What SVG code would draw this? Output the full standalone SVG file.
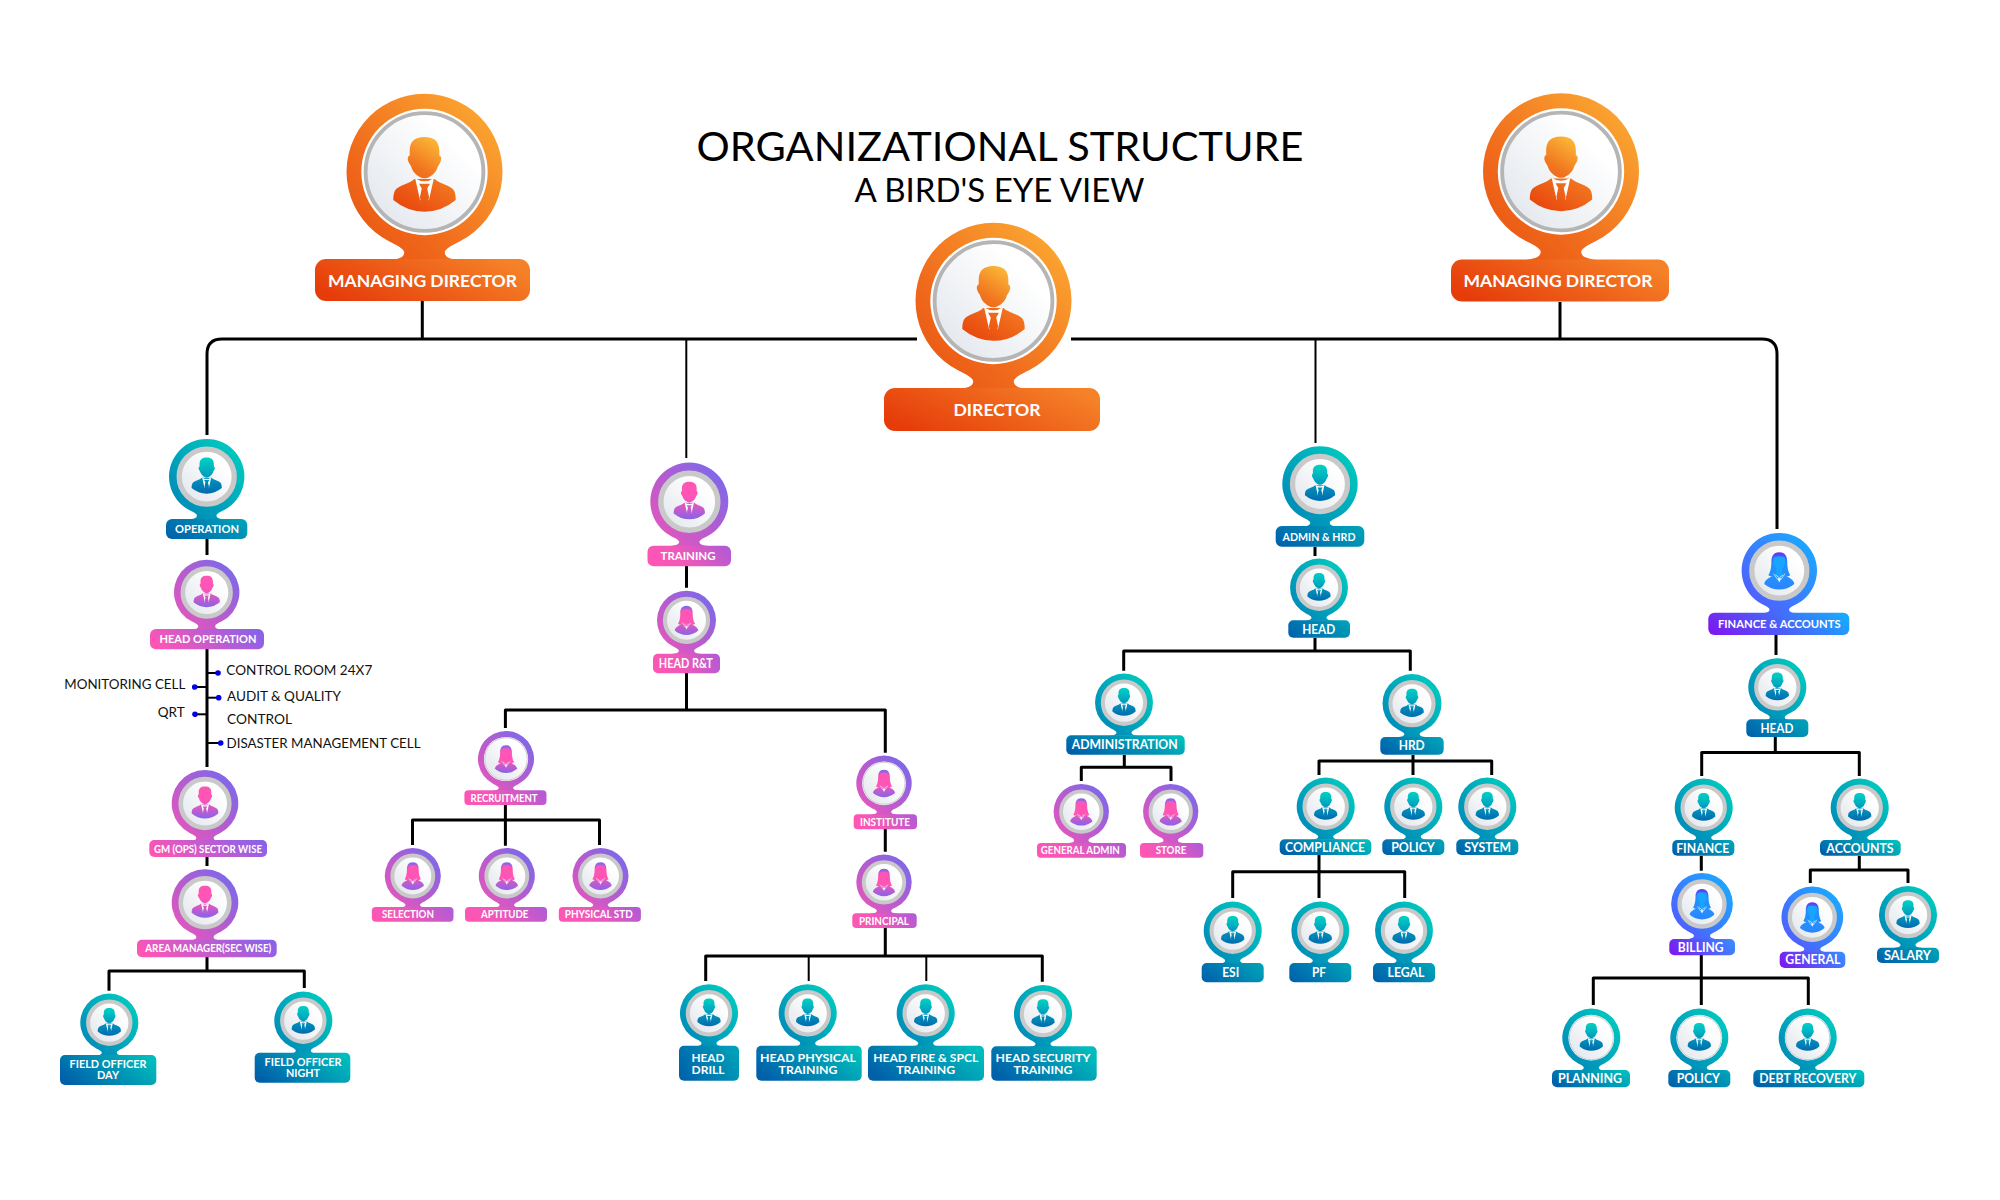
<svg xmlns="http://www.w3.org/2000/svg" width="2000" height="1200" viewBox="0 0 2000 1200">
<style>
text{font-family:"Lato","Liberation Sans",sans-serif;text-anchor:middle}
.w{fill:#fff;font-weight:700}
.f11{font-size:10.8px}.f12{font-size:11.8px}.f13{font-size:12.8px}.f18{font-size:17.5px}
.k{fill:#111;font-size:13.2px;text-anchor:start}
.t{fill:#000;font-size:40px}.st{fill:#000;font-size:32px}
.lo{fill:url(#lo)}.lt{fill:url(#lt)}.lt2{fill:url(#lt2)}.lp{fill:url(#lp)}.lp2{fill:url(#lp2)}.lb{fill:url(#lb)}.lb2{fill:url(#lb2)}
.c3,.c2,.tk{fill:none;stroke:#000;stroke-linejoin:round}
.c3{stroke-width:3}.c2{stroke-width:2}.tk{stroke-width:2;marker-end:url(#dot)}
</style>
<defs>
<linearGradient id="ho" x1="0" y1="1" x2="1" y2="0"><stop offset="0" stop-color="#e8500f"/><stop offset=".35" stop-color="#f06a1c"/><stop offset="1" stop-color="#fdb235"/></linearGradient>
<linearGradient id="ht" x1="0" y1="1" x2="1" y2="0"><stop offset="0" stop-color="#0083b6"/><stop offset=".3" stop-color="#0098ba"/><stop offset="1" stop-color="#00d3c0"/></linearGradient>
<linearGradient id="hp" x1="0" y1="1" x2="1" y2="0"><stop offset="0" stop-color="#f055b8"/><stop offset=".5" stop-color="#b45cd0"/><stop offset="1" stop-color="#6c6cf2"/></linearGradient>
<linearGradient id="hb" x1="0" y1="1" x2="1" y2="0"><stop offset="0" stop-color="#5a50ff"/><stop offset="1" stop-color="#12b4ff"/></linearGradient>
<linearGradient id="lo" x1="0" y1=".7" x2="1" y2=".3"><stop offset="0" stop-color="#e63c0a"/><stop offset="1" stop-color="#f58228"/></linearGradient>
<linearGradient id="lt" x1="0" y1=".7" x2="1" y2=".3"><stop offset="0" stop-color="#0060aa"/><stop offset="1" stop-color="#00bcbc"/></linearGradient>
<linearGradient id="lt2" x1="0" y1=".7" x2="1" y2=".3"><stop offset="0" stop-color="#0064ac"/><stop offset="1" stop-color="#00a0b8"/></linearGradient>
<linearGradient id="lp" x1="0" y1=".6" x2="1" y2=".4"><stop offset="0" stop-color="#ff55b4"/><stop offset="1" stop-color="#8a62e8"/></linearGradient>
<linearGradient id="lp2" x1="0" y1=".6" x2="1" y2=".4"><stop offset="0" stop-color="#ff55b4"/><stop offset=".4" stop-color="#f058b8"/><stop offset="1" stop-color="#b45ad4"/></linearGradient>
<linearGradient id="lb" x1="0" y1=".6" x2="1" y2=".4"><stop offset="0" stop-color="#7a1cf0"/><stop offset="1" stop-color="#18a8ff"/></linearGradient>
<linearGradient id="lb2" x1="0" y1=".6" x2="1" y2=".4"><stop offset="0" stop-color="#7a1cf0"/><stop offset="1" stop-color="#3a88ff"/></linearGradient>
<linearGradient id="fo" gradientUnits="userSpaceOnUse" x1="-35" y1="50" x2="25" y2="-45"><stop offset="0" stop-color="#e8410c"/><stop offset=".55" stop-color="#f1751f"/><stop offset="1" stop-color="#fdc53c"/></linearGradient>
<linearGradient id="ft" gradientUnits="userSpaceOnUse" x1="0" y1="50" x2="0" y2="-45"><stop offset="0" stop-color="#006cae"/><stop offset=".4" stop-color="#0092bc"/><stop offset=".65" stop-color="#00b0c0"/><stop offset="1" stop-color="#00d2c4"/></linearGradient>
<linearGradient id="fp" gradientUnits="userSpaceOnUse" x1="0" y1="50" x2="0" y2="-45"><stop offset="0" stop-color="#8a62e8"/><stop offset=".35" stop-color="#d858c4"/><stop offset=".6" stop-color="#ff55b4"/><stop offset="1" stop-color="#ff55b4"/></linearGradient>
<linearGradient id="fb" gradientUnits="userSpaceOnUse" x1="0" y1="50" x2="0" y2="-45"><stop offset="0" stop-color="#2c84ff"/><stop offset="1" stop-color="#16a8ff"/></linearGradient>
<linearGradient id="hrp" gradientUnits="userSpaceOnUse" x1="0" y1="-49" x2="0" y2="-20"><stop offset="0" stop-color="#7868f0"/><stop offset="1" stop-color="#ff55b4"/></linearGradient>
<linearGradient id="hrb" gradientUnits="userSpaceOnUse" x1="0" y1="-49" x2="0" y2="-20"><stop offset="0" stop-color="#6a30f0"/><stop offset="1" stop-color="#2090ff"/></linearGradient>
<linearGradient id="disc" x1="1" y1="0" x2="0" y2="1"><stop offset=".25" stop-color="#fff"/><stop offset="1" stop-color="#dfe4ea"/></linearGradient>
<marker id="dot" markerUnits="userSpaceOnUse" markerWidth="6" markerHeight="6" refX="3" refY="3"><circle cx="3" cy="3" r="2.800" fill="#0000e6"/></marker>
<path id="hd" d="M-45 89A100 100 0 1 1 45 89C30 96 26 100 26 103C26 110 34 112 50 114L-50 114C-34 112-26 110-26 103C-26 100-30 96-45 89Z"/>
<g id="man">
<path d="M0-45C-13-45-19-39-19-27C-19-24-19-22-19-21C-22-20-22-15-20-12C-18-9-17-7-16-4C-13 3-5 8 0 8C5 8 13 3 16-4C17-7 18-9 20-12C22-15 22-20 19-21C19-22 19-24 19-27C19-39 13-45 0-45Z"/>
<path d="M-13 9C-18 15-34 17-38 24C-40 28-40 33-40 36Q-22 51 0 51Q22 51 40 36C40 33 40 28 38 24C34 17 18 15 13 9Z"/>
<path fill="#fff" d="M-12 8L-5.500 37L-3 25L3 25L5.500 37L12 8Q0 16-12 8Z"/>
<path d="M-7 15L7 15L3.500 21L6 33L0 42L-6 33L-3.500 21Z"/>
</g>
<g id="fem-p">
<path fill="url(#hrp)" d="M0-49C-17-49-21-36-21-24C-21-8-24 4-29 12C-22 17-12 16 0 16C12 16 22 17 29 12C24 4 21-8 21-24C21-36 17-49 0-49Z"/>
<path fill="url(#fp)" d="M-12 10C-16 15-38 20-40 35Q-22 50 0 50Q22 50 40 35C38 20 16 15 12 10Z"/>
<path fill="#ff55b4" d="M-16-28C-16-36-10-38 0-38C10-38 16-36 16-28C16-14 8-2 0-2C-8-2-16-14-16-28ZM-7-6L7-6L9 12L0 20L-9 12Z"/>
<path fill="#fff" d="M-5 20L5 20L0 31Z"/>
<path fill="none" stroke="#fff" stroke-width="1.800" d="M-15 8L-4 24M15 8L4 24M-10 11L0 19L10 11"/>
</g>
<g id="fem-b">
<path fill="url(#hrb)" d="M0-49C-17-49-21-36-21-24C-21-8-24 4-29 12C-22 17-12 16 0 16C12 16 22 17 29 12C24 4 21-8 21-24C21-36 17-49 0-49Z"/>
<path fill="url(#fb)" d="M-12 10C-16 15-38 20-40 35Q-22 50 0 50Q22 50 40 35C38 20 16 15 12 10Z"/>
<path fill="#18a4ff" d="M-16-28C-16-36-10-38 0-38C10-38 16-36 16-28C16-14 8-2 0-2C-8-2-16-14-16-28ZM-7-6L7-6L9 12L0 20L-9 12Z"/>
<path fill="#fff" d="M-5 20L5 20L0 31Z"/>
<path fill="none" stroke="#fff" stroke-width="1.800" d="M-15 8L-4 24M15 8L4 24M-10 11L0 19L10 11"/>
</g>
<g id="ring"><circle r="73" fill="url(#disc)" stroke="#c9c9c9" stroke-width="14"/></g>
<g id="ringf"><circle r="79" fill="#fff"/><circle r="76" fill="url(#disc)" stroke="#b8b8b8" stroke-width="2.500"/></g>
<g id="pin-o"><use href="#hd" fill="url(#ho)"/><circle r="81" fill="#fff"/><circle r="75.500" fill="url(#disc)" stroke="#b5b5b5" stroke-width="5"/><use href="#man" fill="url(#fo)"/></g>
<g id="pin-t"><use href="#hd" fill="url(#ht)"/><use href="#ring"/><use href="#man" fill="url(#ft)" y="-6"/></g>
<g id="pin-tf"><use href="#hd" fill="url(#ht)"/><use href="#ringf"/><use href="#man" fill="url(#ft)" y="-6"/></g>
<g id="pin-p"><use href="#hd" fill="url(#hp)"/><use href="#ring"/><use href="#man" fill="url(#fp)" y="-6"/></g>
<g id="pin-w"><use href="#hd" fill="url(#hp)"/><use href="#ring"/><use href="#fem-p"/></g>
<g id="pin-wf"><use href="#hd" fill="url(#hp)"/><use href="#ringf"/><use href="#fem-p"/></g>
<g id="pin-b"><use href="#hd" fill="url(#hb)"/><use href="#ring"/><use href="#fem-b"/></g>
</defs>
<g id="title">
<text class="t" x="1000" y="160.700" textLength="607" lengthAdjust="spacingAndGlyphs">ORGANIZATIONAL STRUCTURE</text>
<text class="st" x="999.500" y="202" textLength="290" lengthAdjust="spacingAndGlyphs">A BIRD'S EYE VIEW</text>
</g>
<g id="connectors">
<path class="c3" d="M207 435V354Q207 339 222 339H917M1071 339H1762Q1777 339 1777 354V529M422.300 301V339M1560 302V339"/>
<path class="c2" d="M686.300 339V458M1315.500 339V443M808.700 956V981M926.300 956V981"/>
<path class="c3" d="M207 539V555M207 649V767M207 857V866M207 957V971M109 990.700V971H304.300V988"/>
<path class="c3" d="M686.500 566V587.700M686.500 673V710M505.400 728V710H885.300V752.700M505.400 805V845.700M412.500 845V820H599.500V845M885.300 829V851.700M885.300 928V956M705.700 981V956H1042.300V981.700"/>
<path class="c3" d="M1315 547V556M1315 638V651M1123.700 670.700V651H1410.300V670.700M1124.300 755V767.300M1081.300 781V767.300H1171V781M1413 755V775M1319 775V761H1491.700V775M1319 855V898M1232.700 898V871.700H1404.700V898"/>
<path class="c3" d="M1776 635V655M1775.300 737V752.500M1701.700 776V752.500H1859.300V776M1701.300 856V870.700M1701.300 955V1005M1593.300 1005V978H1808.300V1005M1859.300 856V870M1810.300 883V870H1908V883"/>
<path class="tk" d="M207 673H218"/><path class="tk" d="M207 697.700H218.700"/><path class="tk" d="M207 743H220.700"/><path class="tk" d="M207 687H194.700"/><path class="tk" d="M207 714.300H195"/>
</g>
<g id="notes">
<text class="k" x="226.300" y="675" textLength="146" lengthAdjust="spacingAndGlyphs">CONTROL ROOM 24X7</text>
<text class="k" x="227" y="701" textLength="114" lengthAdjust="spacingAndGlyphs">AUDIT &amp; QUALITY</text>
<text class="k" x="227" y="724" textLength="65" lengthAdjust="spacingAndGlyphs">CONTROL</text>
<text class="k" x="226.500" y="748" textLength="194" lengthAdjust="spacingAndGlyphs">DISASTER MANAGEMENT CELL</text>
<text class="k" x="64.300" y="689" textLength="121" lengthAdjust="spacingAndGlyphs">MONITORING CELL</text>
<text class="k" x="157.700" y="716.700" textLength="27" lengthAdjust="spacingAndGlyphs">QRT</text>
</g>
<g id="n-md-left"><use href="#pin-o" transform="translate(424.500 172) scale(.78)"/><rect class="lo" x="315" y="259" width="215" height="42" rx="11"/><text class="w f18" x="422.500" y="286.500" textLength="189" lengthAdjust="spacingAndGlyphs">MANAGING DIRECTOR</text></g>
<g id="n-md-right"><use href="#pin-o" transform="translate(1561 171.500) scale(.78)"/><rect class="lo" x="1451" y="259.500" width="218" height="42" rx="11"/><text class="w f18" x="1558" y="286.500" textLength="189" lengthAdjust="spacingAndGlyphs">MANAGING DIRECTOR</text></g>
<g id="n-director"><use href="#pin-o" transform="translate(993.500 301) scale(.78)"/><rect class="lo" x="884" y="388" width="216" height="43" rx="11"/><text class="w f18" x="997" y="415.500" textLength="87" lengthAdjust="spacingAndGlyphs">DIRECTOR</text></g>

<g id="n-operation"><use href="#pin-t" transform="translate(206.700 476.700) scale(.377)"/><rect class="lt2" x="166" y="519" width="81.300" height="20" rx="6"/><text class="w f11" x="207" y="532.800" textLength="64" lengthAdjust="spacingAndGlyphs">OPERATION</text></g>
<g id="n-head-operation"><use href="#pin-p" transform="translate(206.700 592.500) scale(.327)"/><rect class="lp" x="150" y="629" width="114" height="20.300" rx="6"/><text class="w f12" x="208" y="643" textLength="97" lengthAdjust="spacingAndGlyphs">HEAD OPERATION</text></g>
<g id="n-gm"><use href="#pin-p" transform="translate(205 803.500) scale(.333)"/><rect class="lp" x="149.300" y="840" width="117.700" height="17" rx="5"/><text class="w f11" x="208" y="852.500" textLength="108" lengthAdjust="spacingAndGlyphs">GM (OPS) SECTOR WISE</text></g>
<g id="n-area"><use href="#pin-p" transform="translate(205 902.700) scale(.333)"/><rect class="lp" x="137" y="939.700" width="139.700" height="17.600" rx="5"/><text class="w f11" x="208.300" y="952.300" textLength="126" lengthAdjust="spacingAndGlyphs">AREA MANAGER(SEC WISE)</text></g>
<g id="n-fo-day"><use href="#pin-t" transform="translate(109.300 1022.700) scale(.29)"/><rect class="lt" x="60" y="1055" width="96.300" height="30" rx="5"/><text class="w f12"><tspan x="108" y="1068" textLength="77" lengthAdjust="spacingAndGlyphs">FIELD OFFICER</tspan><tspan x="108" y="1079.300" textLength="22" lengthAdjust="spacingAndGlyphs">DAY</tspan></text></g>
<g id="n-fo-night"><use href="#pin-t" transform="translate(303.300 1020.700) scale(.29)"/><rect class="lt" x="254.700" y="1052.700" width="95.600" height="30" rx="5"/><text class="w f12"><tspan x="303" y="1066" textLength="77" lengthAdjust="spacingAndGlyphs">FIELD OFFICER</tspan><tspan x="303" y="1077" textLength="34" lengthAdjust="spacingAndGlyphs">NIGHT</tspan></text></g>

<g id="n-training"><use href="#pin-p" transform="translate(689.300 501.700) scale(.39)"/><rect class="lp2" x="647.500" y="545.700" width="83.500" height="20.600" rx="6"/><text class="w f12" x="688" y="560.400" textLength="55" lengthAdjust="spacingAndGlyphs">TRAINING</text></g>
<g id="n-head-rt"><use href="#pin-w" transform="translate(686.500 620.300) scale(.295)"/><rect class="lp2" x="653" y="653.700" width="67" height="19.600" rx="5"/><text class="w f13" x="685.800" y="668" textLength="54" lengthAdjust="spacingAndGlyphs">HEAD R&amp;T</text></g>
<g id="n-recruitment"><use href="#pin-wf" transform="translate(506 759) scale(.28)"/><rect class="lp2" x="464.400" y="790.300" width="82.100" height="14.700" rx="4"/><text class="w f11" x="504" y="801.500" textLength="67" lengthAdjust="spacingAndGlyphs">RECRUITMENT</text></g>
<g id="n-selection"><use href="#pin-w" transform="translate(412.800 876) scale(.28)"/><rect class="lp2" x="371.800" y="907" width="81.700" height="14.700" rx="4"/><text class="w f11" x="408" y="918.200" textLength="52" lengthAdjust="spacingAndGlyphs">SELECTION</text></g>
<g id="n-aptitude"><use href="#pin-w" transform="translate(506.800 876) scale(.28)"/><rect class="lp2" x="465" y="907" width="82" height="14.700" rx="4"/><text class="w f11" x="504.700" y="918.200" textLength="47.400" lengthAdjust="spacingAndGlyphs">APTITUDE</text></g>
<g id="n-physical"><use href="#pin-w" transform="translate(600.500 876) scale(.28)"/><rect class="lp2" x="558.800" y="907" width="82.100" height="14.700" rx="4"/><text class="w f11" x="598.800" y="918.200" textLength="68" lengthAdjust="spacingAndGlyphs">PHYSICAL STD</text></g>
<g id="n-institute"><use href="#pin-wf" transform="translate(884 783.300) scale(.277)"/><rect class="lp2" x="853.700" y="814.300" width="63.300" height="15" rx="4"/><text class="w f11" x="885" y="825.700" textLength="50" lengthAdjust="spacingAndGlyphs">INSTITUTE</text></g>
<g id="n-principal"><use href="#pin-w" transform="translate(884 882.300) scale(.277)"/><rect class="lp2" x="852.300" y="913.300" width="64.400" height="14.700" rx="4"/><text class="w f11" x="884" y="924.600" textLength="50" lengthAdjust="spacingAndGlyphs">PRINCIPAL</text></g>
<g id="n-head-drill"><use href="#pin-t" transform="translate(709 1013.300) scale(.29)"/><rect class="lt2" x="679" y="1045.700" width="60" height="35" rx="5"/><text class="w f12"><tspan x="708" y="1062" textLength="33" lengthAdjust="spacingAndGlyphs">HEAD</tspan><tspan x="708" y="1074.200" textLength="33" lengthAdjust="spacingAndGlyphs">DRILL</tspan></text></g>
<g id="n-head-physical"><use href="#pin-t" transform="translate(807.700 1013.300) scale(.29)"/><rect class="lt" x="756.300" y="1045.700" width="105.400" height="35" rx="5"/><text class="w f12"><tspan x="808" y="1062" textLength="96" lengthAdjust="spacingAndGlyphs">HEAD PHYSICAL</tspan><tspan x="808" y="1074.200" textLength="59" lengthAdjust="spacingAndGlyphs">TRAINING</tspan></text></g>
<g id="n-head-fire"><use href="#pin-t" transform="translate(925.700 1013.300) scale(.29)"/><rect class="lt" x="868" y="1045.700" width="116" height="35" rx="5"/><text class="w f12"><tspan x="925.700" y="1062" textLength="105" lengthAdjust="spacingAndGlyphs">HEAD FIRE &amp; SPCL</tspan><tspan x="925.700" y="1074.200" textLength="59" lengthAdjust="spacingAndGlyphs">TRAINING</tspan></text></g>
<g id="n-head-security"><use href="#pin-t" transform="translate(1043 1014) scale(.29)"/><rect class="lt" x="991.300" y="1046.300" width="105.400" height="34.400" rx="5"/><text class="w f12"><tspan x="1043" y="1062" textLength="95" lengthAdjust="spacingAndGlyphs">HEAD SECURITY</tspan><tspan x="1043" y="1074.200" textLength="59" lengthAdjust="spacingAndGlyphs">TRAINING</tspan></text></g>

<g id="n-admin-hrd"><use href="#pin-t" transform="translate(1320 484) scale(.377)"/><rect class="lt2" x="1275.700" y="526" width="88.600" height="20.700" rx="6"/><text class="w f12" x="1319" y="540.600" textLength="73" lengthAdjust="spacingAndGlyphs">ADMIN &amp; HRD</text></g>
<g id="n-admin-head"><use href="#pin-t" transform="translate(1319 587.700) scale(.29)"/><rect class="lt2" x="1288.300" y="620.300" width="61.700" height="17.400" rx="5"/><text class="w f13" x="1318.700" y="633.700" textLength="33" lengthAdjust="spacingAndGlyphs">HEAD</text></g>
<g id="n-administration"><use href="#pin-t" transform="translate(1124 702.700) scale(.29)"/><rect class="lt" x="1066.300" y="735.300" width="118.400" height="19.400" rx="5"/><text class="w f13" x="1124.700" y="749.300" textLength="106" lengthAdjust="spacingAndGlyphs">ADMINISTRATION</text></g>
<g id="n-general-admin"><use href="#pin-w" transform="translate(1081.300 811.700) scale(.277)"/><rect class="lp2" x="1037" y="843" width="89" height="14.700" rx="4"/><text class="w f11" x="1080.300" y="854.200" textLength="79" lengthAdjust="spacingAndGlyphs">GENERAL ADMIN</text></g>
<g id="n-store"><use href="#pin-w" transform="translate(1170.700 811.700) scale(.277)"/><rect class="lp2" x="1140" y="843" width="63.300" height="14.700" rx="4"/><text class="w f11" x="1171" y="854.200" textLength="30.700" lengthAdjust="spacingAndGlyphs">STORE</text></g>
<g id="n-hrd"><use href="#pin-t" transform="translate(1412 703.700) scale(.295)"/><rect class="lt2" x="1380.300" y="737" width="63.400" height="17.700" rx="5"/><text class="w f13" x="1411.700" y="750.400" textLength="26" lengthAdjust="spacingAndGlyphs">HRD</text></g>
<g id="n-compliance"><use href="#pin-t" transform="translate(1325.700 806.700) scale(.29)"/><rect class="lt" x="1279.700" y="839.300" width="91.600" height="15.700" rx="5"/><text class="w f13" x="1325" y="851.700" textLength="80" lengthAdjust="spacingAndGlyphs">COMPLIANCE</text></g>
<g id="n-hrd-policy"><use href="#pin-t" transform="translate(1413.300 806.700) scale(.29)"/><rect class="lt2" x="1382.300" y="839.300" width="62" height="15.700" rx="5"/><text class="w f13" x="1413" y="851.700" textLength="43.700" lengthAdjust="spacingAndGlyphs">POLICY</text></g>
<g id="n-system"><use href="#pin-t" transform="translate(1487.300 806.700) scale(.29)"/><rect class="lt2" x="1456.300" y="839.300" width="62" height="15.700" rx="5"/><text class="w f13" x="1487.700" y="851.700" textLength="46.700" lengthAdjust="spacingAndGlyphs">SYSTEM</text></g>
<g id="n-esi"><use href="#pin-t" transform="translate(1232.700 930.700) scale(.29)"/><rect class="lt2" x="1201.700" y="963" width="62" height="19.300" rx="5"/><text class="w f13" x="1230.700" y="977.200" textLength="17" lengthAdjust="spacingAndGlyphs">ESI</text></g>
<g id="n-pf"><use href="#pin-t" transform="translate(1320.300 930.700) scale(.29)"/><rect class="lt2" x="1289.300" y="963" width="62" height="19.300" rx="5"/><text class="w f13" x="1319" y="977.200" textLength="14" lengthAdjust="spacingAndGlyphs">PF</text></g>
<g id="n-legal"><use href="#pin-t" transform="translate(1404 930.700) scale(.29)"/><rect class="lt2" x="1373" y="963" width="62" height="19.300" rx="5"/><text class="w f13" x="1406" y="977.200" textLength="37" lengthAdjust="spacingAndGlyphs">LEGAL</text></g>

<g id="n-finance-accounts"><use href="#pin-b" transform="translate(1779.300 570.700) scale(.377)"/><rect class="lb" x="1708.300" y="612.700" width="141" height="22.300" rx="6"/><text class="w f11" x="1779.300" y="627.600" textLength="122.700" lengthAdjust="spacingAndGlyphs">FINANCE &amp; ACCOUNTS</text></g>
<g id="n-fin-head"><use href="#pin-t" transform="translate(1777.300 687.300) scale(.29)"/><rect class="lt2" x="1746.300" y="719.300" width="62" height="17.700" rx="5"/><text class="w f13" x="1777" y="732.700" textLength="33" lengthAdjust="spacingAndGlyphs">HEAD</text></g>
<g id="n-finance"><use href="#pin-t" transform="translate(1703.700 807.700) scale(.29)"/><rect class="lt2" x="1672.300" y="840" width="62" height="15.700" rx="5"/><text class="w f13" x="1702.700" y="852.500" textLength="53" lengthAdjust="spacingAndGlyphs">FINANCE</text></g>
<g id="n-accounts"><use href="#pin-t" transform="translate(1859.700 807.700) scale(.29)"/><rect class="lt" x="1820" y="840" width="80.700" height="15.700" rx="5"/><text class="w f13" x="1860" y="852.500" textLength="67.300" lengthAdjust="spacingAndGlyphs">ACCOUNTS</text></g>
<g id="n-billing"><use href="#pin-b" transform="translate(1702 904) scale(.308)"/><rect class="lb2" x="1669.300" y="939" width="65.700" height="16.300" rx="5"/><text class="w f13" x="1700.700" y="951.600" textLength="45.700" lengthAdjust="spacingAndGlyphs">BILLING</text></g>
<g id="n-general"><use href="#pin-b" transform="translate(1812.300 917.300) scale(.308)"/><rect class="lb2" x="1779.700" y="951.700" width="65.600" height="16.300" rx="5"/><text class="w f13" x="1812.800" y="964.300" textLength="55" lengthAdjust="spacingAndGlyphs">GENERAL</text></g>
<g id="n-salary"><use href="#pin-t" transform="translate(1908 915) scale(.29)"/><rect class="lt2" x="1877" y="947.700" width="62" height="15.300" rx="5"/><text class="w f13" x="1907.500" y="960" textLength="47" lengthAdjust="spacingAndGlyphs">SALARY</text></g>
<g id="n-planning"><use href="#pin-tf" transform="translate(1591.300 1037.700) scale(.29)"/><rect class="lt" x="1552" y="1070" width="78" height="17.300" rx="5"/><text class="w f13" x="1590" y="1083.200" textLength="64" lengthAdjust="spacingAndGlyphs">PLANNING</text></g>
<g id="n-bill-policy"><use href="#pin-tf" transform="translate(1699.300 1037.700) scale(.29)"/><rect class="lt2" x="1668.300" y="1070" width="62" height="17.300" rx="5"/><text class="w f13" x="1698.300" y="1083.200" textLength="43.300" lengthAdjust="spacingAndGlyphs">POLICY</text></g>
<g id="n-debt"><use href="#pin-tf" transform="translate(1807.700 1037.700) scale(.29)"/><rect class="lt" x="1753.300" y="1070" width="111" height="17.300" rx="5"/><text class="w f13" x="1807.800" y="1083.200" textLength="97" lengthAdjust="spacingAndGlyphs">DEBT RECOVERY</text></g>
</svg>
